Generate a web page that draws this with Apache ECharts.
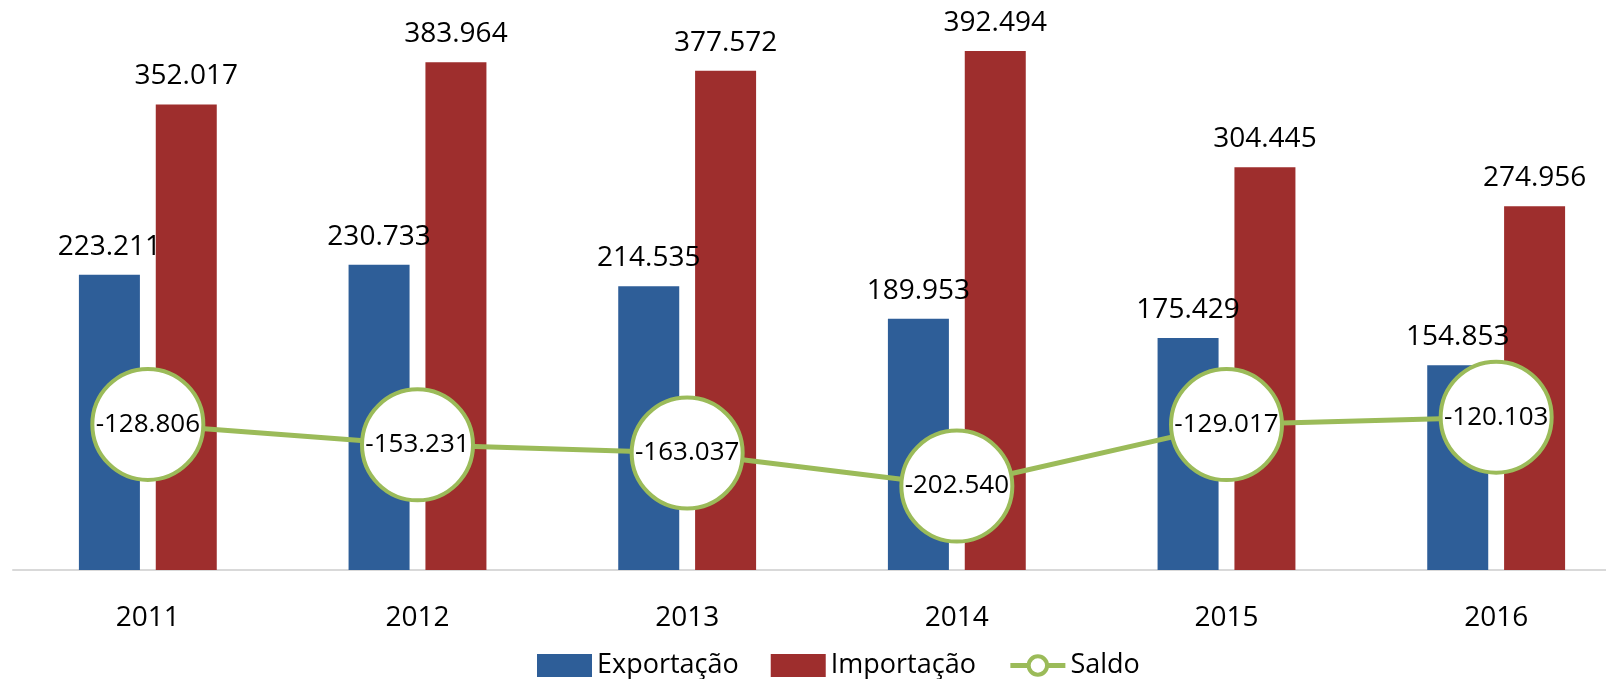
<!DOCTYPE html>
<html>
<head>
<meta charset="utf-8">
<script src="https://cdn.jsdelivr.net/npm/echarts@6/dist/echarts.min.js"></script>
<style>
  html, body { margin: 0; padding: 0; background: #ffffff; }
  #chart { width: 1606px; height: 679px; }
</style>
</head>
<body>
<div id="chart"></div>
<script>
const years = ['2011', '2012', '2013', '2014', '2015', '2016'];
const exportacao = [223.211, 230.733, 214.535, 189.953, 175.429, 154.853];
const importacao = [352.017, 383.964, 377.572, 392.494, 304.445, 274.956];
const saldo = [-128.806, -153.231, -163.037, -202.540, -129.017, -120.103];

const FONT = '"Open Sans", "Noto Sans", sans-serif';
const fmt = p => Number(p.value).toFixed(3);

const chart = echarts.init(document.getElementById('chart'), null, { renderer: 'canvas' });
chart.setOption({
  animation: false,
  backgroundColor: '#ffffff',
  textStyle: { fontFamily: FONT },
  grid: { left: 13, right: -25, top: 41, bottom: 109, containLabel: false, outerBoundsMode: 'none' },
  legend: {
    left: 532, top: 647,
    itemWidth: 55, itemHeight: 23, itemGap: 32,
    textStyle: { fontFamily: FONT, fontSize: 27, color: '#000' },
    data: [
      { name: 'Exportação', icon: 'rect' },
      { name: 'Importação', icon: 'rect' },
      { name: 'Saldo', lineStyle: { width: 5, color: '#9BBB59' },
        itemStyle: { color: '#ffffff', borderColor: '#9BBB59', borderWidth: 4 } }
    ]
  },
  xAxis: {
    type: 'category',
    data: years,
    axisLine: { show: true, lineStyle: { color: '#d9d9d9', width: 2 } },
    axisTick: { show: false },
    axisLabel: { margin: 34, fontFamily: FONT, fontSize: 28, color: '#000' }
  },
  yAxis: [
    { type: 'value', min: 0, max: 400, show: false, splitLine: { show: false } },
    { type: 'value', min: -303, max: 330, show: false, splitLine: { show: false } }
  ],
  series: [
    {
      name: 'Exportação', type: 'bar', data: exportacao,
      barWidth: 61, barGap: '26%',
      itemStyle: { color: '#2E5E98' },
      label: { show: true, position: 'top', distance: 14, formatter: fmt,
               fontFamily: FONT, fontSize: 28, color: '#000' }
    },
    {
      name: 'Importação', type: 'bar', data: importacao,
      barWidth: 61, barGap: '26%',
      itemStyle: { color: '#9E2E2D' },
      label: { show: true, position: 'top', distance: 14, formatter: fmt,
               fontFamily: FONT, fontSize: 28, color: '#000' }
    },
    {
      name: 'Saldo', type: 'line', yAxisIndex: 1, data: saldo,
      symbol: 'circle', symbolSize: 111, z: 5,
      lineStyle: { color: '#9BBB59', width: 5 },
      itemStyle: { color: '#ffffff', borderColor: '#9BBB59', borderWidth: 4 },
      label: { show: true, position: 'inside', formatter: fmt,
               fontFamily: FONT, fontSize: 26, color: '#000' }
    }
  ]
});
</script>
</body>
</html>
